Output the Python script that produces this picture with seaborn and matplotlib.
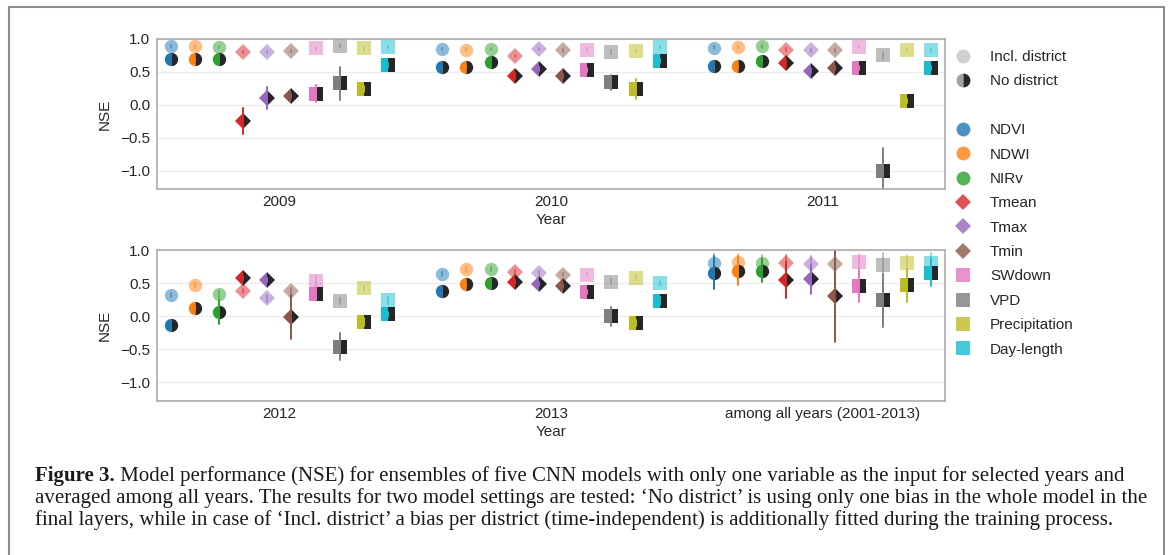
import numpy as np
import pandas as pd
import matplotlib
matplotlib.use("Agg")
import matplotlib.pyplot as plt
import seaborn as sns
from matplotlib.lines import Line2D
from matplotlib.patches import Rectangle

# ---- data -------------------------------------------------------------
variables = ["NDVI", "NDWI", "NIRv", "Tmean", "Tmax", "Tmin",
             "SWdown", "VPD", "Precipitation", "Day-length"]
var_markers = ["o", "o", "o", "D", "D", "D", "s", "s", "s", "s"]

years_top = ["2009", "2010", "2011"]
years_bottom = ["2012", "2013", "among all years (2001-2013)"]
years = years_top + years_bottom

# NSE of the ensemble with a district bias ("Incl. district"), one list per year
incl_2009 = [0.89, 0.89, 0.88, 0.80, 0.80, 0.82, 0.86, 0.90, 0.86, 0.88]
incl_2010 = [0.85, 0.84, 0.85, 0.74, 0.85, 0.83, 0.84, 0.80, 0.82, 0.88]
incl_2011 = [0.87, 0.88, 0.89, 0.84, 0.83, 0.83, 0.88, 0.75, 0.84, 0.83]
incl_2012 = [0.32, 0.47, 0.33, 0.38, 0.27, 0.38, 0.53, 0.23, 0.42, 0.24]
incl_2013 = [0.64, 0.71, 0.72, 0.67, 0.66, 0.63, 0.63, 0.52, 0.58, 0.50]
incl_all = [0.80, 0.82, 0.81, 0.80, 0.79, 0.79, 0.82, 0.77, 0.80, 0.81]

# half-width of the spread among ensemble members
incl_err_2009 = [0.02, 0.02, 0.02, 0.02, 0.02, 0.02, 0.02, 0.02, 0.02, 0.02]
incl_err_2010 = [0.02, 0.02, 0.02, 0.02, 0.02, 0.02, 0.02, 0.03, 0.02, 0.02]
incl_err_2011 = [0.02, 0.02, 0.02, 0.02, 0.02, 0.02, 0.02, 0.05, 0.02, 0.02]
incl_err_2012 = [0.03, 0.03, 0.05, 0.03, 0.05, 0.05, 0.08, 0.04, 0.04, 0.05]
incl_err_2013 = [0.03, 0.03, 0.03, 0.03, 0.03, 0.03, 0.03, 0.04, 0.04, 0.03]
incl_err_all = [0.14, 0.12, 0.12, 0.12, 0.12, 0.25, 0.12, 0.18, 0.12, 0.14]

# NSE of the ensemble with a single bias ("No district")
no_2009 = [0.70, 0.69, 0.69, -0.25, 0.10, 0.13, 0.17, 0.33, 0.24, 0.60]
no_2010 = [0.58, 0.57, 0.65, 0.44, 0.55, 0.44, 0.53, 0.34, 0.24, 0.66]
no_2011 = [0.59, 0.59, 0.66, 0.63, 0.52, 0.56, 0.56, -1.01, 0.06, 0.56]
no_2012 = [-0.13, 0.13, 0.07, 0.57, 0.54, -0.01, 0.34, -0.46, -0.08, 0.03]
no_2013 = [0.38, 0.48, 0.50, 0.51, 0.48, 0.46, 0.36, 0.00, -0.10, 0.23]
no_all = [0.66, 0.69, 0.69, 0.55, 0.56, 0.30, 0.46, 0.24, 0.47, 0.66]

no_err_2009 = [0.02, 0.02, 0.02, 0.20, 0.17, 0.03, 0.13, 0.25, 0.05, 0.03]
no_err_2010 = [0.02, 0.02, 0.02, 0.05, 0.03, 0.03, 0.03, 0.12, 0.15, 0.03]
no_err_2011 = [0.02, 0.02, 0.03, 0.05, 0.03, 0.03, 0.03, 0.35, 0.03, 0.03]
no_err_2012 = [0.03, 0.03, 0.18, 0.03, 0.03, 0.33, 0.10, 0.20, 0.06, 0.04]
no_err_2013 = [0.02, 0.02, 0.02, 0.03, 0.03, 0.03, 0.03, 0.14, 0.04, 0.06]
no_err_all = [0.25, 0.22, 0.18, 0.27, 0.22, 0.69, 0.25, 0.40, 0.25, 0.20]

incl_values = [incl_2009, incl_2010, incl_2011, incl_2012, incl_2013, incl_all]
incl_errors = [incl_err_2009, incl_err_2010, incl_err_2011,
               incl_err_2012, incl_err_2013, incl_err_all]
no_values = [no_2009, no_2010, no_2011, no_2012, no_2013, no_all]
no_errors = [no_err_2009, no_err_2010, no_err_2011,
             no_err_2012, no_err_2013, no_err_all]

caption_bold = "Figure 3."
caption_lines = [
    " Model performance (NSE) for ensembles of five CNN models with only one variable as the input for selected years and",
    "averaged among all years. The results for two model settings are tested: \u2018No district\u2019 is using only one bias in the whole model in the",
    "final layers, while in case of \u2018Incl. district\u2019 a bias per district (time-independent) is additionally fitted during the training process.",
]


def long_table(values, errors, setting):
    """Each point is stored as (low, centre, high) so that the median gives
    the centre and the full percentile interval gives the spread."""
    rows = []
    for year, vals, errs in zip(years, values, errors):
        for var, v, e in zip(variables, vals, errs):
            for s in (-1, 0, 1):
                rows.append({"year": year, "variable": var,
                             "nse": v + s * e, "setting": setting})
    return pd.DataFrame(rows)


df_incl = long_table(incl_values, incl_errors, "Incl. district")
df_no = long_table(no_values, no_errors, "No district")

# ---- style ------------------------------------------------------------
sns.set_theme(style="whitegrid")
plt.rcParams["font.family"] = ["Liberation Sans", "DejaVu Sans"]
plt.rcParams["axes.edgecolor"] = "#a6a6a6"
plt.rcParams["axes.linewidth"] = 1.1
plt.rcParams["grid.color"] = "#ededed"
plt.rcParams["grid.linewidth"] = 1.0
plt.rcParams["text.color"] = "#262626"
plt.rcParams["axes.labelcolor"] = "#262626"
plt.rcParams["xtick.color"] = "#262626"
plt.rcParams["ytick.color"] = "#262626"

palette = dict(zip(variables, sns.color_palette("tab10", 10)))
marker_map = dict(zip(variables, var_markers))
DARK = "#262626"
FS = 11

W, H = 1171, 555
fig = plt.figure(figsize=(W / 100, H / 100), dpi=100)
ax_top = fig.add_axes([157 / W, 1 - 189 / H, 788 / W, 150 / H])
ax_bot = fig.add_axes([157 / W, 1 - 401 / H, 788 / W, 151 / H])


def draw_setting(ax, data, order, no_district):
    n_before = len(ax.lines)
    sns.pointplot(data=data, x="year", y="nse", hue="variable",
                  order=order, hue_order=variables, palette=palette,
                  markers=var_markers, linestyles="none", dodge=0.8,
                  estimator="median", errorbar=("pi", 100),
                  err_kws={"linewidth": 1.4},
                  markersize=9.6, markeredgewidth=0,
                  alpha=(1.0 if no_district else 0.5),
                  legend=False, ax=ax)
    for ln in ax.lines[n_before:]:
        mk = ln.get_marker()
        if mk in ("None", None, "", "none"):
            continue
        if mk == "D":
            ln.set_markersize(8.2)
        if no_district:
            ln.set_fillstyle("left")
            ln.set_markerfacecoloralt(DARK)
        ln.set_markeredgewidth(0)


for ax, order in ((ax_top, years_top), (ax_bot, years_bottom)):
    d_incl = df_incl[df_incl["year"].isin(order)]
    d_no = df_no[df_no["year"].isin(order)]
    draw_setting(ax, d_incl, order, False)
    draw_setting(ax, d_no, order, True)
    ax.set_xlim(-0.45, 2.45)
    ax.set_ylim(-1.28, 1.0)
    ax.set_yticks([-1.0, -0.5, 0.0, 0.5, 1.0])
    ax.set_yticklabels(["\u22121.0", "\u22120.5", "0.0", "0.5", "1.0"])
    ax.xaxis.grid(False)
    ax.yaxis.grid(True)
    ax.set_xlabel("Year", fontsize=FS, labelpad=3)
    ax.set_ylabel("NSE", fontsize=FS, labelpad=6)
    ax.tick_params(axis="both", labelsize=FS, length=0)
    ax.tick_params(axis="y", pad=5)
    ax.tick_params(axis="x", pad=4)
    for sp in ax.spines.values():
        sp.set_visible(True)
        sp.set_color("#a6a6a6")

# ---- legend -----------------------------------------------------------
handles = [
    Line2D([], [], ls="none", marker="o", ms=10, mew=0, color="#bdbdbd", alpha=0.7),
    Line2D([], [], ls="none", marker="o", ms=10, mew=0, color="#a0a0a0",
           fillstyle="left", markerfacecoloralt=DARK),
    Line2D([], [], ls="none", marker=None),
]
labels = ["Incl. district", "No district", ""]
for var in variables:
    mk = marker_map[var]
    handles.append(Line2D([], [], ls="none", marker=mk,
                          ms=(8.6 if mk == "D" else 10 if mk == "o" else 9.4),
                          mew=0, color=palette[var], alpha=0.8))
    labels.append(var)

fig.legend(handles, labels, loc="upper left",
           bbox_to_anchor=(954 / W, 1 - 50 / H), frameon=False,
           fontsize=FS, handlelength=1.2, handletextpad=1.15,
           labelspacing=0.68, borderpad=0, borderaxespad=0)

# ---- figure frame and caption -----------------------------------------
fig.patches.append(Rectangle((8.5 / W, -0.1), (1164 - 8.5) / W, 1.1 - 6.5 / H,
                             transform=fig.transFigure, fill=False,
                             edgecolor="#8c8c8c", linewidth=1.5))

serif = ["Liberation Serif", "DejaVu Serif"]
renderer = fig.canvas.get_renderer()
x0 = 35 / W
target = (1127 - 35)


def line_width(fs):
    t1 = fig.text(0, 0, caption_bold, fontsize=fs, family=serif, weight="bold")
    t2 = fig.text(0, 0, caption_lines[0], fontsize=fs, family=serif)
    w = t1.get_window_extent(renderer).width + t2.get_window_extent(renderer).width
    t1.remove()
    t2.remove()
    return w


cap_fs = 14.0
for _ in range(3):
    cap_fs *= target / line_width(cap_fs)

baselines = [481.5, 503.5, 525.5]
tb = fig.text(x0, 1 - baselines[0] / H, caption_bold, fontsize=cap_fs,
              family=serif, weight="bold", va="baseline", color="#1a1a1a")
bw = tb.get_window_extent(renderer).width
fig.text(x0 + bw / W, 1 - baselines[0] / H, caption_lines[0], fontsize=cap_fs,
         family=serif, va="baseline", color="#1a1a1a")
for y, txt in zip(baselines[1:], caption_lines[1:]):
    fig.text(x0, 1 - y / H, txt, fontsize=cap_fs, family=serif,
             va="baseline", color="#1a1a1a")

fig.savefig("out.png", dpi=100)
